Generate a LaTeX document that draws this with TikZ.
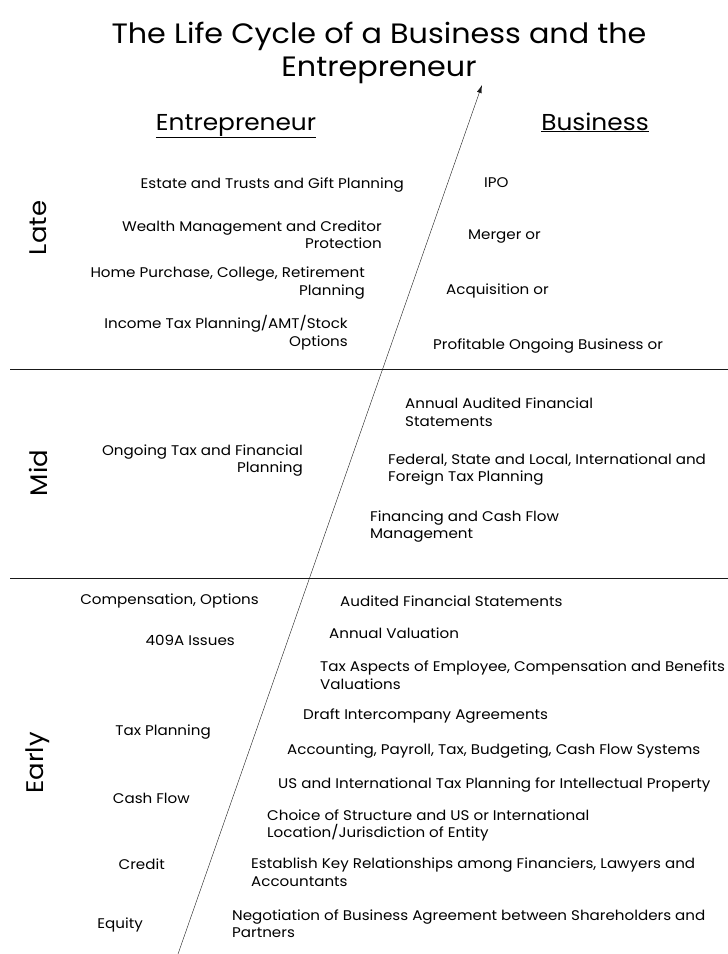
\documentclass[tikz,border=0pt]{standalone}
\usepackage{fontspec}
\setmainfont{Poppins}[FakeStretch=1.08]
\usetikzlibrary{arrows.meta}

\begin{document}
\begin{tikzpicture}[x=1pt, y=-1pt]

    % Colors
    \definecolor{inkcol}{RGB}{25,25,25}

    % Common text styles
    \tikzset{
        titletext/.style={font=\fontsize{28}{33}\selectfont, align=center, inner sep=0pt},
        headtext/.style={font=\fontsize{23}{26}\selectfont, anchor=base, inner sep=0pt},
        stagetext/.style={font=\fontsize{24}{26}\selectfont, rotate=90, inner sep=0pt},
        lefttext/.style={font=\fontsize{14}{17.5}\selectfont, align=right, anchor=east, inner sep=0pt},
        righttext/.style={font=\fontsize{14}{17.5}\selectfont, align=left, anchor=west, inner sep=0pt},
        divider/.style={semithick, inkcol}
    }

    \useasboundingbox (0,0) rectangle (728,954);

    % ===================== Title and headers =====================
    \node[titletext] (title) at (379,53)
        {The Life Cycle of a Business and the\\Entrepreneur};
    \node[headtext] (enthead) at (236,130) {\underline{Entrepreneur}};
    \node[headtext] (bushead) at (595,130) {\underline{Business}};

    % ===================== Dividers and arrow =====================
    \coordinate (lateL) at (10,369);
    \coordinate (lateR) at (728,369);
    \coordinate (midL) at (10,578);
    \coordinate (midR) at (728,578);
    \draw[divider] (lateL) -- (lateR);
    \draw[divider] (midL) -- (midR);

    \coordinate (tail) at (178,954);
    \coordinate (head) at (482,85);
    \draw[inkcol, thin, -{Latex[length=8pt,width=5pt]}] (tail) -- (head);

    % ===================== Stages =====================
    \node[stagetext] (late) at (38,228) {Late};
    \node[stagetext] (mid) at (38,473) {Mid};
    \node[stagetext] (early) at (38,763) {Early};

    % ===================== Late stage =====================
    \node[lefttext] (estate) at (404,185) {Estate and Trusts and Gift Planning};
    \node[lefttext] (wealth) at (382,234.5) {Wealth Management and Creditor\\Protection};
    \node[lefttext] (home) at (365,283) {Home Purchase, College, Retirement\\Planning};
    \node[lefttext] (income) at (348,332.5) {Income Tax Planning/AMT/Stock\\Options};

    \node[righttext] (ipo) at (484,183) {IPO};
    \node[righttext] (merger) at (468,237) {Merger or};
    \node[righttext] (acq) at (446,291) {Acquisition or};
    \node[righttext] (profit) at (433,346) {Profitable Ongoing Business or};

    % ===================== Mid stage =====================
    \node[lefttext] (ongoing) at (303,460.5) {Ongoing Tax and Financial\\Planning};

    \node[righttext] (annaudit) at (405,412) {Annual Audited Financial\\Statements};
    \node[righttext] (federal) at (388,469.5) {Federal, State and Local, International and\\Foreign Tax Planning};
    \node[righttext] (financing) at (370,526.5) {Financing and Cash Flow\\Management};

    % ===================== Early stage =====================
    \node[lefttext] (comp) at (259,601) {Compensation, Options};
    \node[lefttext] (issues) at (235,640) {409A Issues};
    \node[lefttext] (taxplan) at (211,732) {Tax Planning};
    \node[lefttext] (cash) at (190,798) {Cash Flow};
    \node[lefttext] (credit) at (165,864) {Credit};
    \node[lefttext] (equity) at (143,925) {Equity};

    \node[righttext] (audited) at (340,601) {Audited Financial Statements};
    \node[righttext] (valuation) at (329,633) {Annual Valuation};
    \node[righttext] (aspects) at (320,675) {Tax Aspects of Employee, Compensation and Benefits\\Valuations};
    \node[righttext] (draft) at (303,716) {Draft Intercompany Agreements};
    \node[righttext] (accounting) at (287,751) {Accounting, Payroll, Tax, Budgeting, Cash Flow Systems};
    \node[righttext] (usintl) at (278,785) {US and International Tax Planning for Intellectual Property};
    \node[righttext] (choice) at (267,825.5) {Choice of Structure and US or International\\Location/Jurisdiction of Entity};
    \node[righttext] (establish) at (251,872) {Establish Key Relationships among Financiers, Lawyers and\\Accountants};
    \node[righttext] (negotiation) at (232,923.5) {Negotiation of Business Agreement between Shareholders and\\Partners};

\end{tikzpicture}
\end{document}
